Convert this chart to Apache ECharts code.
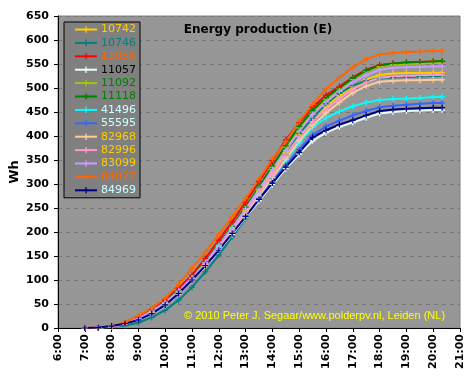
<!DOCTYPE html>
<html><head><meta charset="utf-8">
<script src="https://cdn.jsdelivr.net/npm/echarts@6/dist/echarts.min.js"></script>
<style>html,body{margin:0;padding:0;background:#fff}#c{width:471px;height:381px}</style>
</head><body><div id="c"></div>
<script>
const times = ['7:00','7:30','8:00','8:30','9:00','9:30','10:00','10:30','11:00','11:30','12:00','12:30','13:00','13:30','14:00','14:30','15:00','15:30','16:00','16:30','17:00','17:30','18:00','18:30','19:00','19:30','20:00','20:20'];
const xTickLabels = ['6:00','7:00','8:00','9:00','10:00','11:00','12:00','13:00','14:00','15:00','16:00','17:00','18:00','19:00','20:00','21:00'];
const yTicks = [0,50,100,150,200,250,300,350,400,450,500,550,600,650];
const names = ['10742','10746','11055','11057','11092','11118','41496','55595','82968','82996','83099','84027','84969'];
const s10742 = [0,1,3,8,19,33,51,75,102,133,169,206,245,285,325,365,403,437,462,484,503,518,527,530,531,531,532,532];
const s10746 = [0,0,2,5,11,22,37,58,85,117,152,190,228,268,312,360,405,437,467,489,505,515,520,522,523,524,525,525];
const s11055 = [0,1,3,10,22,38,58,83,110,145,183,221,262,305,348,392,428,460,485,503,522,538,548,551,553,554,555,555];
const s11057 = [0,1,4,9,17,29,47,71,99,129,161,195,230,265,299,332,362,390,407,419,428,438,447,450,452,453,454,454];
const s11092 = [0,1,3,9,20,35,54,78,105,138,175,212,252,293,335,377,417,450,477,498,518,534,545,549,550,551,552,552];
const s11118 = [0,1,3,9,20,35,54,78,105,138,175,212,252,294,337,380,420,453,480,500,520,536,547,551,553,554,555,556];
const s41496 = [0,1,4,9,18,31,50,74,102,135,170,206,243,283,314,350,385,418,438,451,462,470,475,477,478,479,481,482];
const s55595 = [0,1,4,9,17,30,48,72,100,131,164,199,235,270,305,339,372,402,420,432,443,452,460,463,465,467,469,469];
const s82968 = [0,1,3,8,18,32,50,73,99,129,164,200,237,275,313,352,390,422,448,470,490,504,513,515,516,516,517,517];
const s82996 = [0,1,3,8,19,33,51,75,101,132,168,204,242,281,320,360,398,430,456,478,497,512,521,524,525,526,527,527];
const s83099 = [0,1,3,9,20,35,53,77,104,136,172,209,248,289,330,370,410,445,471,493,512,527,538,542,543,544,545,545];
const s84027 = [0,1,4,12,26,42,62,91,124,158,194,232,270,310,352,388,430,466,498,522,543,560,570,573,575,576,577,577];
const s84969 = [0,1,4,9,17,30,48,72,100,130,162,197,232,268,302,335,366,397,412,424,433,443,452,455,457,458,459,459];
const values = [s10742,s10746,s11055,s11057,s11092,s11118,s41496,s55595,s82968,s82996,s83099,s84027,s84969];
const lineColors = ['#FFCC00','#008080','#FF0000','#E8FFFF','#99CC00','#008000','#00FFFF','#3366FF','#FFCC99','#FF99CC','#CC99FF','#FF6600','#000080'];
const textColors = ['#FFCC00','#008080','#FF6600','#000000','#008000','#008000','#CCFFFF','#CCFFFF','#FFCC00','#FFCC00','#FFCC00','#FF6600','#CCFFFF'];

function toHours(t){const p=t.split(':');return +p[0]+(+p[1])/60;}
const plus = 'path://M0,4L10,4L10,6L0,6ZM4,0L6,0L6,10L4,10Z';

const chart = echarts.init(document.getElementById('c'), null, {renderer:'canvas'});
const series = names.map((n,i)=>({
  name:n, type:'line', data: times.map((t,k)=>[toHours(t), values[i][k]]),
  symbol:plus, symbolSize:6, showSymbol:true,
  lineStyle:{color:lineColors[i], width:2}, itemStyle:{color:lineColors[i]},
  emphasis:{disabled:true}, animation:false
}));
chart.setOption({
  animation:false,
  backgroundColor:'#ffffff',
  title:{text:'Energy production (E)', left:253, top:19, textAlign:'center',
    textStyle:{fontFamily:'DejaVu Sans', fontWeight:'bold', fontSize:12, color:'#000'}},
  legend:{orient:'vertical', left:64, top:22, width:79, padding:[2,4,2,10],
    backgroundColor:'#808080', borderColor:'#000', borderWidth:1,
    itemWidth:22, itemHeight:8, itemGap:2.4, align:'left',
    textStyle:{fontFamily:'DejaVu Sans', fontSize:11, lineHeight:11, height:11, padding:[0,0,0,-1]},
    data: names.map((n,i)=>({name:n, textStyle:{color:textColors[i]}}))},
  grid:{left:58, top:16, right:11, bottom:53, containLabel:false, outerBoundsMode:'none',
    show:true, backgroundColor:'#969696', borderColor:'#808080', borderWidth:1},
  xAxis:{type:'value', min:6, max:21, interval:1,
    axisLine:{show:true, lineStyle:{color:'#000', width:1}},
    axisTick:{show:true, length:4, lineStyle:{color:'#000'}},
    splitLine:{show:false},
    axisLabel:{rotate:90, margin:6, fontFamily:'DejaVu Sans', fontWeight:'bold', fontSize:11, color:'#000',
      formatter:(v)=>xTickLabels[Math.round(v)-6]}},
  yAxis:{type:'value', min:yTicks[0], max:yTicks[yTicks.length-1], interval:50,
    name:'Wh', nameLocation:'middle', nameGap:37, nameRotate:90, nameMoveOverlap:false,
    nameTextStyle:{fontFamily:'DejaVu Sans', fontWeight:'bold', fontSize:13, color:'#000'},
    axisLine:{show:true, lineStyle:{color:'#000', width:1}},
    axisTick:{show:true, length:4, lineStyle:{color:'#000'}},
    splitLine:{show:true, lineStyle:{color:'#777', type:[4,4], width:1}},
    axisLabel:{margin:9, fontFamily:'DejaVu Sans', fontWeight:'bold', fontSize:11, color:'#000'}},
  graphic:[{type:'text', left:184, top:310, z:100,
    style:{text:'\u00A9 2010 Peter J. Segaar/www.polderpv.nl, Leiden (NL)', fill:'#FFFF00', font:'11px "Liberation Sans"'}}],
  series: series
});
</script></body></html>
